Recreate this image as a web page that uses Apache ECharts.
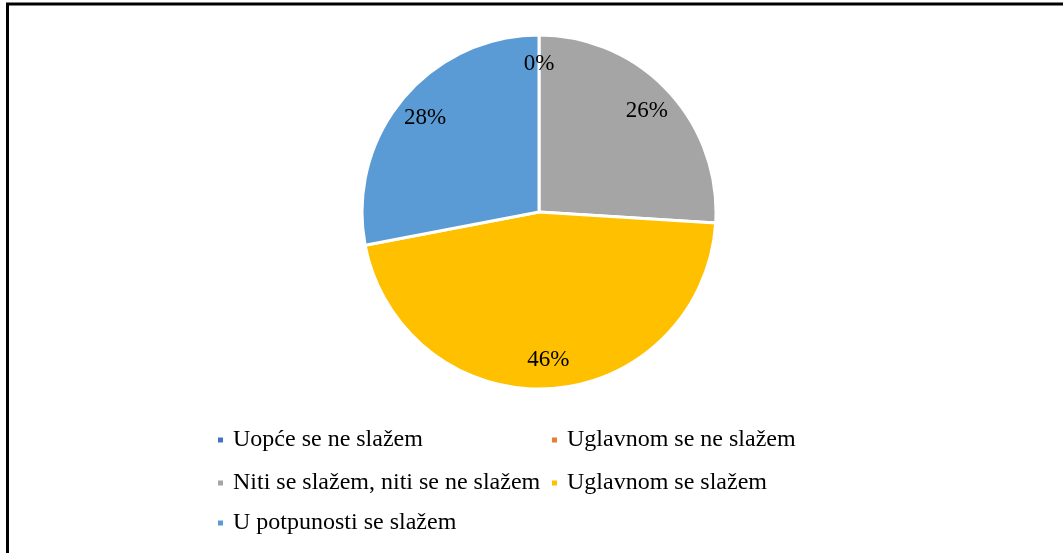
<!DOCTYPE html>
<html><head><meta charset="utf-8">
<script src="https://cdn.jsdelivr.net/npm/echarts@6/dist/echarts.min.js"></script>
<style>html,body{margin:0;padding:0;background:#fff}#c{width:1063px;height:553px}</style>
</head><body><div id="c"></div>
<script>
const categories = ['Uopće se ne slažem','Uglavnom se ne slažem','Niti se slažem, niti se ne slažem','Uglavnom se slažem','U potpunosti se slažem'];
const values = [0, 0, 26, 46, 28];
const colors = ['#4472C4','#ED7D31','#A5A5A5','#FFC000','#5B9BD5'];
const font = 'Liberation Serif';
const data = categories.map((n,i)=>({name:n,value:values[i],itemStyle:{color:colors[i]}}));
const legendPos = [[216,428],[550,428],[216,471],[550,471],[216,511]];
const chart = echarts.init(document.getElementById('c'));
chart.setOption({
  animation:false,
  graphic:[
    {type:'line',shape:{x1:6,y1:4,x2:1063,y2:4},style:{stroke:'#000',lineWidth:3}},
    {type:'line',shape:{x1:7.5,y1:3,x2:7.5,y2:553},style:{stroke:'#000',lineWidth:3}}
  ],
  legend: categories.map((n,i)=>({
    data:[n], left:legendPos[i][0], top:legendPos[i][1], padding:0,
    icon:'rect', itemWidth:7, itemHeight:7, itemGap:0,
    textStyle:{fontFamily:font,fontSize:24,color:'#000',padding:[0,0,0,4]},
    selectedMode:false
  })),
  series:[
    {type:'pie',center:[539,212],radius:[0,177],startAngle:90,clockwise:true,
     data:data,label:{show:false},labelLine:{show:false},
     itemStyle:{borderColor:'#fff',borderWidth:3},emphasis:{disabled:true},silent:true},
    {type:'pie',center:[539,212],radius:[113,177],startAngle:90,clockwise:true,
     data:categories.map((n,i)=>({name:n,value:values[i]})),
     itemStyle:{color:'rgba(0,0,0,0)'},legendHoverLink:false,
     label:{show:true,position:'inside',formatter:'{d}%',fontFamily:font,fontSize:23,color:'#000'},
     labelLine:{show:false},emphasis:{disabled:true},silent:true}
  ]
});
</script></body></html>
